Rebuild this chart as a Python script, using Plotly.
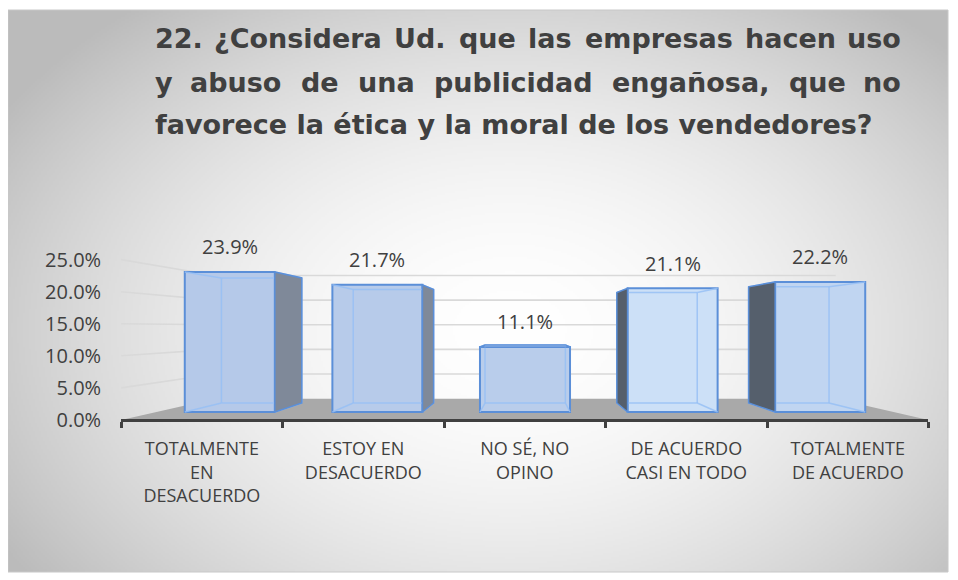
import base64
import struct
import zlib

import numpy as np
import plotly.graph_objects as go

# ---------------- data ----------------
categories = [
    "TOTALMENTE<br>EN<br>DESACUERDO",
    "ESTOY EN<br>DESACUERDO",
    "NO SÉ, NO<br>OPINO",
    "DE ACUERDO<br>CASI EN TODO",
    "TOTALMENTE<br>DE ACUERDO",
]
values = [23.9, 21.7, 11.1, 21.1, 22.2]          # percent
value_labels = ["23.9%", "21.7%", "11.1%", "21.1%", "22.2%"]
y_ticks = [0, 5, 10, 15, 20, 25]
y_tick_labels = ["0.0%", "5.0%", "10.0%", "15.0%", "20.0%", "25.0%"]
title_line1 = ["22.", "¿Considera", "Ud.", "que", "las", "empresas", "hacen", "uso"]
title_line2 = ["y", "abuso", "de", "una", "publicidad", "engañosa,", "que", "no"]
title_line3 = "favorece la ética y la moral de los vendedores?"

# ---------------- geometry (page-pixel layout of the 3-D view) ----------------
OFF = 8                      # page body margin
FW, FH = 950, 572            # figure size (page 958x580 minus body margin)
PX0, PXU = 156.0, 147.6      # bar front plane: x pixel of category -0.5, px per category
PY0, PYU = 412.0, 5.86       # bar front plane: y pixel of 0 %, px per %
VP_PIX = (527.0, 328.0)      # vanishing point
S_AXIS, S_BACK, S_WALL = 1.094, 0.893, 0.841
BAR_W = 0.61


def px2paper(px):
    return (px - OFF) / FW


def py2paper(py):
    return 1 - (py - OFF) / FH


def p2d(px, py):
    return (px - PX0) / PXU - 0.5, (PY0 - py) / PYU


def d2px(x):
    return (x + 0.5) * PXU + PX0


VX, VY = p2d(*VP_PIX)
XR = [p2d(OFF, 0)[0], p2d(OFF + FW, 0)[0]]
YR = [p2d(0, OFF + FH)[1], p2d(0, OFF)[1]]


def persp(x, y, s):
    return VX + s * (x - VX), VY + s * (y - VY)


# ---------------- background radial gradient image ----------------
def make_png(arr):
    h, w, _ = arr.shape
    raw = b"".join(b"\x00" + arr[r].tobytes() for r in range(h))

    def chunk(tag, data):
        c = struct.pack(">I", len(data)) + tag + data
        return c + struct.pack(">I", zlib.crc32(tag + data) & 0xFFFFFFFF)

    png = b"\x89PNG\r\n\x1a\n"
    png += chunk(b"IHDR", struct.pack(">IIBBBBB", w, h, 8, 2, 0, 0, 0))
    png += chunk(b"IDAT", zlib.compress(raw, 9))
    png += chunk(b"IEND", b"")
    return "data:image/png;base64," + base64.b64encode(png).decode()


BX0, BY0, BX1, BY1 = 8, 10, 948, 572
gw, gh = (BX1 - BX0) // 2, (BY1 - BY0) // 2
gx = np.linspace(BX0, BX1, gw)
gy = np.linspace(BY0, BY1, gh)
GX, GY = np.meshgrid(gx, gy)
r = np.sqrt(((GX - 510) / 600.0) ** 2 + ((GY - 330) / 420.0) ** 2)
shade = 255 - 68 * np.clip(r, 0, 1) ** 1.8
img = np.repeat(shade[:, :, None], 3, axis=2).astype(np.uint8)
bg_uri = make_png(np.ascontiguousarray(img))

fig = go.Figure()

# ---------------- floor and wall gridlines (main subplot) ----------------
floor_pts = [persp(-0.5, 0, S_AXIS), persp(4.5, 0, S_AXIS),
             persp(4.5, 0, S_WALL), persp(-0.5, 0, S_WALL)]
fig.add_trace(go.Scatter(
    x=[p[0] for p in floor_pts] + [floor_pts[0][0]],
    y=[p[1] for p in floor_pts] + [floor_pts[0][1]],
    fill="toself", fillcolor="#A9A9A9", line=dict(width=0),
    mode="lines", hoverinfo="skip", showlegend=False))

gx_, gy_ = [], []
for v in y_ticks[1:]:
    a = persp(-0.5, v, S_AXIS)
    b = persp(-0.5, v, S_WALL)
    c = persp(4.5, v, S_WALL)
    gx_ += [a[0], b[0], c[0], None]
    gy_ += [a[1], b[1], c[1], None]
fig.add_trace(go.Scatter(x=gx_, y=gy_, mode="lines",
                         line=dict(color="#D9D9D9", width=1.6),
                         hoverinfo="skip", showlegend=False))

# ---------------- bar front faces (overlay subplot 2) ----------------
bar_colors = ["#B5C9E9", "#B7CBEA", "#B9CDEB", "#CCE0F7", "#C0D5F1"]
fig.add_trace(go.Bar(
    x=list(range(len(values))), y=values, width=BAR_W,
    marker=dict(color=bar_colors, line=dict(color="#5B8FD8", width=2)),
    xaxis="x2", yaxis="y2", hoverinfo="skip", showlegend=False))

# ---------------- hidden edges, side and top faces (overlay subplot 3) ----------------
ex, ey = [], []
for i, v in enumerate(values):
    xl, xr = i - BAR_W / 2, i + BAR_W / 2
    bl0, br0 = persp(xl, 0, S_BACK), persp(xr, 0, S_BACK)
    blv, brv = persp(xl, v, S_BACK), persp(xr, v, S_BACK)
    for seg in [(bl0, br0), (br0, brv), (brv, blv), (blv, bl0),
                ((xl, 0), bl0), ((xr, 0), br0), ((xl, v), blv), ((xr, v), brv)]:
        ex += [seg[0][0], seg[1][0], None]
        ey += [seg[0][1], seg[1][1], None]
fig.add_trace(go.Scatter(x=ex, y=ey, mode="lines",
                         line=dict(color="rgba(150,192,245,0.85)", width=1.5),
                         xaxis="x3", yaxis="y3", hoverinfo="skip", showlegend=False))

for i, v in enumerate(values):
    xl, xr = i - BAR_W / 2, i + BAR_W / 2
    if xr < VX:
        b0, bv = persp(xr, 0, S_BACK), persp(xr, v, S_BACK)
        poly = [(xr, 0), (xr, v), bv, b0]
        col = "#7F8999"
    elif xl > VX:
        b0, bv = persp(xl, 0, S_BACK), persp(xl, v, S_BACK)
        poly = [(xl, 0), (xl, v), bv, b0]
        col = "#555F6C"
    else:
        poly = None
    if poly:
        fig.add_trace(go.Scatter(
            x=[p[0] for p in poly] + [poly[0][0]], y=[p[1] for p in poly] + [poly[0][1]],
            fill="toself", fillcolor=col, mode="lines",
            line=dict(color="#5B8FD8", width=1.5),
            xaxis="x3", yaxis="y3", hoverinfo="skip", showlegend=False))
    if v < VY:
        blv, brv = persp(xl, v, S_BACK), persp(xr, v, S_BACK)
        poly = [(xl, v), (xr, v), brv, blv]
        fig.add_trace(go.Scatter(
            x=[p[0] for p in poly] + [poly[0][0]], y=[p[1] for p in poly] + [poly[0][1]],
            fill="toself", fillcolor="#C9DBF3", mode="lines",
            line=dict(color="#5B8FD8", width=1.5),
            xaxis="x3", yaxis="y3", hoverinfo="skip", showlegend=False))

# ---------------- front axis plane (subplot 4): category axis & % labels ----------------
ax_l_pix = d2px(persp(-0.5, 0, S_AXIS)[0])
ax_r_pix = d2px(persp(4.5, 0, S_AXIS)[0])
y0_pix = PY0 - persp(0, 0, S_AXIS)[1] * PYU          # page y of 0 % on the axis plane
k_pix = PYU * S_AXIS                                  # px per % on the axis plane
fig.add_trace(go.Scatter(
    x=categories, y=values, mode="markers", marker=dict(opacity=0),
    xaxis="x4", yaxis="y4", hoverinfo="skip", showlegend=False))

# ---------------- data labels ----------------
LFONT = "Open Sans"
for i, (v, lab) in enumerate(zip(values, value_labels)):
    fig.add_annotation(x=i, y=v, xref="x2", yref="y2", text=lab, showarrow=False,
                       yshift=25, font=dict(family=LFONT, size=20, color="#404040"))

# ---------------- title (justified lines 1-2) ----------------
TSIZE = 27
TFONT = dict(family="DejaVu Sans", size=TSIZE, color="#404040")
TL, TR = 153, 903
# approximate DejaVu Sans Bold advance widths (em)
ADV = {"0": .696, "1": .696, "2": .696, ".": .381, ",": .381, "?": .580, "¿": .580,
       "C": .734, "U": .812, "a": .675, "b": .716, "c": .595, "d": .716, "e": .678,
       "é": .678, "g": .716, "h": .712, "i": .343, "l": .343, "m": 1.042, "n": .712,
       "ñ": .712, "o": .687, "p": .716, "q": .716, "r": .493, "s": .595, "u": .712,
       "y": .652}


def word_w(wd):
    return sum(ADV.get(ch, .65) for ch in wd) * TSIZE


for words, base in [(title_line1, 50), (title_line2, 93)]:
    widths = [word_w(wd) for wd in words]
    gap = (TR - TL - sum(widths)) / (len(words) - 1)
    cur = TL
    for j, (wd, ww) in enumerate(zip(words, widths)):
        if j == 0:
            xa, xp = "left", TL
        elif j == len(words) - 1:
            xa, xp = "right", TR
        else:
            xa, xp = "center", cur + ww / 2
        cur += ww + gap
        fig.add_annotation(x=px2paper(xp), y=py2paper(base - 11), xref="paper", yref="paper",
                           text="<b>%s</b>" % wd, showarrow=False, xanchor=xa,
                           yanchor="middle", font=TFONT)
fig.add_annotation(x=px2paper(TL), y=py2paper(135 - 11), xref="paper", yref="paper",
                   text="<b>%s</b>" % title_line3, showarrow=False, xanchor="left",
                   yanchor="middle", font=TFONT)

hidden = dict(visible=False, showgrid=False, zeroline=False, fixedrange=True)
fig.update_layout(
    width=FW, height=FH, margin=dict(l=0, r=0, t=0, b=0),
    paper_bgcolor="white", plot_bgcolor="rgba(0,0,0,0)",
    barmode="overlay", showlegend=False,
    xaxis=dict(range=XR, domain=[0, 1], **hidden),
    yaxis=dict(range=YR, domain=[0, 1], **hidden),
    xaxis2=dict(range=XR, overlaying="x", **hidden),
    yaxis2=dict(range=YR, overlaying="y", **hidden),
    xaxis3=dict(range=XR, overlaying="x", **hidden),
    yaxis3=dict(range=YR, overlaying="y", **hidden),
    xaxis4=dict(type="category", categoryarray=categories, range=[-0.5, 4.5],
                domain=[px2paper(ax_l_pix), px2paper(ax_r_pix)], anchor="free",
                position=py2paper(y0_pix),
                showline=True, linecolor="#404040", linewidth=3,
                ticks="outside", tickson="boundaries", ticklen=6, tickwidth=3,
                tickcolor="#404040", showgrid=False, zeroline=False,
                tickfont=dict(family=LFONT, size=18, color="#404040"),
                ticklabelstandoff=12),
    yaxis4=dict(range=[(y0_pix - (OFF + FH)) / k_pix, (y0_pix - OFF) / k_pix], domain=[0, 1],
                anchor="free", position=px2paper(ax_l_pix), side="left",
                tickvals=y_ticks, ticktext=y_tick_labels, ticks="",
                showline=False, showgrid=False, zeroline=False,
                tickfont=dict(family=LFONT, size=20, color="#404040"),
                ticklabelstandoff=20),
    images=[dict(source=bg_uri, xref="paper", yref="paper",
                 x=px2paper(BX0), y=py2paper(BY0),
                 sizex=(BX1 - BX0) / FW, sizey=(BY1 - BY0) / FH,
                 xanchor="left", yanchor="top", sizing="stretch", layer="below")],
    shapes=[dict(type="rect", xref="paper", yref="paper",
                 x0=px2paper(BX0), x1=px2paper(BX1), y0=py2paper(BY1), y1=py2paper(BY0),
                 line=dict(color="#C8C8C8", width=1), layer="below")],
)

fig.write_html("out.html")
